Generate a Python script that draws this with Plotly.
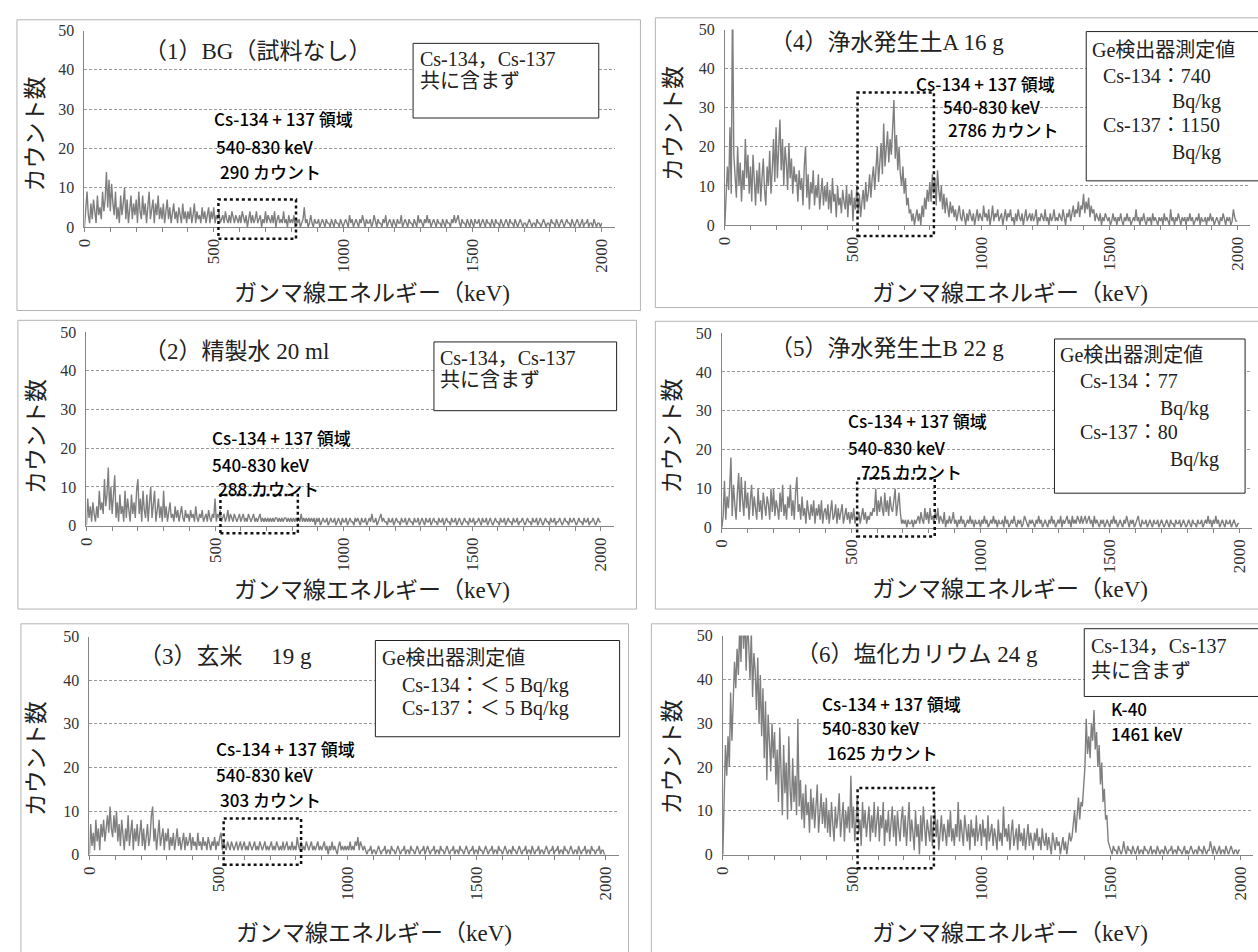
import plotly.graph_objects as go

W, H = 1258, 952
STEP_KEV = 5  # spacing of the value lists (keV); each list covers 0..2000 keV

# ---- spectra (counts, one value per 5 keV) ----
bg_counts = [
    0, 5, 9, 3, 1, 6, 2, 7, 4, 1, 8, 3, 5, 2, 9, 4, 7, 14, 5, 12,
    4, 11, 6, 3, 9, 2, 5, 1, 8, 3, 6, 10, 2, 7, 1, 5, 8, 2, 6, 3,
    7, 1, 9, 4, 2, 8, 3, 6, 1, 5, 9, 2, 4, 7, 1, 6, 3, 8, 2, 5,
    2, 6, 1, 4, 7, 2, 5, 1, 3, 6, 2, 4, 1, 5, 3, 1, 6, 2, 4, 1,
    4, 2, 5, 1, 3, 6, 1, 4, 2, 3, 1, 5, 2, 4, 1, 3, 5, 1, 4, 2,
    5, 1, 3, 2, 4, 1, 2, 3, 1, 4, 2, 1, 3, 1, 4, 2, 1, 3, 2, 1,
    3, 1, 4, 2, 1, 3, 0, 2, 4, 1, 3, 1, 2, 4, 1, 2, 3, 0, 2, 1,
    4, 1, 3, 2, 1, 3, 1, 4, 0, 2, 3, 1, 2, 1, 4, 1, 2, 0, 3, 1,
    2, 1, 3, 0, 2, 1, 2, 0, 1, 2, 5, 1, 2, 0, 1, 3, 1, 0, 2, 1,
    1, 2, 0, 1, 2, 1, 0, 2, 1, 1, 0, 2, 1, 0, 2, 1, 1, 0, 2, 1,
    0, 1, 2, 1, 0, 3, 1, 2, 0, 1, 2, 1, 0, 2, 1, 3, 1, 0, 2, 1,
    1, 2, 0, 1, 3, 1, 0, 2, 1, 1, 0, 2, 1, 3, 0, 1, 2, 1, 0, 2,
    1, 0, 2, 1, 1, 3, 0, 1, 2, 1, 0, 2, 1, 1, 0, 2, 1, 0, 3, 1,
    2, 1, 0, 2, 1, 3, 1, 2, 0, 1, 2, 1, 0, 2, 1, 1, 0, 2, 1, 0,
    2, 1, 1, 0, 2, 1, 3, 1, 2, 3, 1, 0, 2, 1, 1, 0, 2, 1, 0, 2,
    1, 0, 2, 1, 1, 2, 0, 1, 2, 1, 0, 2, 1, 1, 0, 2, 1, 0, 2, 1,
    1, 0, 2, 1, 0, 1, 2, 1, 0, 2, 1, 1, 0, 2, 1, 0, 1, 2, 1, 0,
    1, 1, 0, 1, 2, 1, 0, 1, 1, 0, 2, 1, 1, 0, 1, 2, 1, 0, 1, 1,
    0, 2, 1, 1, 0, 2, 1, 0, 1, 2, 1, 0, 1, 2, 1, 1, 0, 2, 1, 0,
    1, 2, 1, 0, 1, 2, 0, 1, 1, 2, 0, 1, 1, 0, 2, 1, 0, 1, 1, 0,
    1,
]
water_counts = [
    0, 7, 2, 5, 1, 6, 3, 1, 5, 2, 9, 4, 6, 3, 12, 5, 8, 15, 4, 10,
    3, 7, 13, 2, 6, 1, 8, 3, 5, 1, 9, 2, 7, 4, 1, 8, 3, 6, 2, 9,
    12, 3, 7, 1, 9, 4, 2, 8, 1, 6, 10, 2, 5, 9, 1, 4, 7, 2, 5, 1,
    9, 2, 5, 1, 4, 6, 2, 3, 1, 5, 2, 4, 1, 3, 5, 2, 1, 4, 2, 3,
    1, 4, 2, 3, 1, 5, 2, 1, 3, 2, 4, 1, 2, 3, 1, 4, 2, 1, 3, 2,
    7, 1, 3, 2, 4, 1, 2, 3, 1, 2, 4, 1, 3, 2, 1, 3, 2, 1, 2, 3,
    1, 2, 3, 1, 2, 1, 3, 2, 1, 2, 3, 1, 2, 1, 2, 3, 1, 2, 1, 2,
    1, 2, 1, 2, 1, 2, 1, 2, 2, 1, 2, 1, 2, 1, 2, 2, 1, 2, 1, 2,
    1, 2, 1, 2, 1, 2, 1, 3, 1, 2, 1, 2, 1, 2, 1, 2, 1, 2, 0, 2,
    1, 2, 0, 1, 2, 1, 1, 2, 0, 1, 2, 1, 1, 2, 0, 1, 2, 1, 0, 2,
    1, 1, 2, 0, 1, 2, 1, 1, 0, 2, 1, 2, 1, 0, 2, 1, 1, 2, 0, 1,
    2, 1, 3, 1, 1, 2, 0, 1, 2, 3, 1, 2, 1, 1, 0, 2, 1, 1, 2, 0,
    1, 2, 1, 1, 0, 2, 1, 1, 2, 0, 1, 2, 1, 1, 0, 2, 1, 1, 2, 0,
    1, 2, 1, 0, 2, 1, 1, 2, 0, 1, 2, 1, 1, 0, 2, 1, 1, 2, 0, 1,
    2, 1, 1, 0, 2, 1, 1, 2, 0, 1, 2, 1, 0, 1, 2, 1, 1, 0, 2, 1,
    1, 2, 0, 1, 1, 2, 1, 0, 2, 1, 1, 2, 0, 1, 2, 1, 0, 1, 2, 1,
    1, 0, 2, 1, 1, 2, 0, 1, 2, 1, 1, 0, 2, 1, 1, 2, 0, 1, 1, 2,
    1, 0, 1, 2, 1, 1, 0, 2, 1, 1, 2, 0, 1, 2, 1, 0, 1, 2, 1, 1,
    0, 2, 1, 1, 2, 0, 1, 1, 2, 1, 0, 1, 2, 1, 1, 0, 2, 1, 1, 2,
    1, 0, 1, 2, 1, 1, 0, 2, 1, 1, 2, 0, 1, 1, 2, 1, 0, 1, 2, 1,
    1,
]
rice_counts = [
    0, 7, 2, 5, 1, 8, 3, 6, 1, 7, 4, 8, 3, 6, 9, 5, 11, 6, 4, 9,
    5, 10, 3, 7, 2, 8, 4, 1, 6, 3, 9, 2, 5, 8, 1, 6, 3, 7, 2, 5,
    8, 2, 6, 1, 5, 7, 2, 4, 9, 11, 3, 6, 1, 5, 8, 2, 4, 6, 1, 5,
    3, 6, 1, 4, 2, 5, 1, 3, 6, 2, 4, 1, 3, 5, 1, 4, 2, 3, 5, 1,
    4, 2, 3, 1, 5, 2, 3, 1, 4, 2, 3, 1, 4, 2, 1, 3, 2, 4, 1, 3,
    2, 4, 5, 1, 3, 2, 1, 3, 2, 1, 3, 2, 1, 2, 3, 1, 2, 3, 1, 2,
    3, 1, 2, 1, 3, 2, 1, 2, 3, 1, 2, 1, 3, 2, 1, 2, 3, 1, 2, 1,
    2, 3, 1, 2, 1, 3, 2, 1, 2, 1, 3, 1, 2, 3, 1, 2, 1, 3, 1, 2,
    1, 4, 2, 1, 3, 1, 2, 1, 3, 2, 1, 2, 3, 1, 2, 1, 2, 3, 1, 2,
    1, 2, 3, 1, 2, 0, 2, 1, 3, 1, 2, 1, 0, 2, 3, 1, 2, 1, 2, 1,
    2, 1, 3, 1, 2, 1, 3, 2, 4, 1, 3, 2, 1, 2, 1, 0, 1, 1, 2, 0,
    1, 1, 0, 1, 2, 1, 0, 1, 1, 2, 0, 1, 1, 0, 2, 1, 1, 0, 1, 2,
    1, 0, 1, 1, 2, 0, 1, 1, 0, 2, 1, 1, 0, 1, 2, 1, 0, 1, 1, 2,
    0, 1, 2, 1, 0, 1, 1, 2, 0, 1, 1, 0, 2, 1, 1, 0, 1, 2, 1, 0,
    1, 1, 2, 0, 1, 1, 0, 2, 1, 1, 0, 1, 2, 1, 0, 1, 1, 2, 0, 1,
    1, 0, 2, 1, 1, 0, 1, 2, 1, 0, 1, 1, 2, 0, 1, 1, 0, 2, 1, 1,
    0, 1, 2, 1, 0, 1, 1, 0, 2, 1, 1, 0, 1, 2, 1, 0, 1, 1, 2, 0,
    1, 1, 0, 2, 1, 0, 1, 1, 2, 0, 1, 1, 0, 1, 2, 1, 0, 1, 1, 2,
    0, 1, 1, 2, 0, 1, 1, 0, 2, 1, 1, 0, 1, 2, 1, 0, 1, 1, 0, 2,
    1, 0, 1, 1, 2, 0, 1, 1, 0, 2, 1, 1, 0, 1, 1, 2, 0, 1, 1, 0,
    0,
]
soilA_counts = [
    0, 6, 15, 9, 25, 8, 60, 18, 12, 7, 20, 10, 16, 6, 14, 9, 22, 12, 18, 8,
    15, 6, 18, 10, 5, 14, 8, 16, 6, 12, 17, 9, 5, 15, 10, 19, 8, 14, 22, 11,
    25, 12, 18, 27, 14, 22, 10, 20, 16, 9, 21, 12, 17, 8, 15, 11, 13, 6, 14, 9,
    12, 5, 15, 20, 7, 13, 4, 11, 8, 14, 5, 10, 7, 13, 4, 9, 12, 5, 10, 6,
    11, 4, 9, 3, 12, 6, 8, 2, 10, 5, 7, 3, 9, 6, 4, 10, 2, 8, 5, 9,
    1, 7, 4, 10, 3, 8, 2, 6, 9, 4, 11, 6, 8, 13, 7, 12, 15, 9, 14, 20,
    11, 17, 21, 13, 26, 15, 19, 24, 16, 22, 18, 25, 32, 17, 23, 14, 20, 13, 10, 15,
    8, 12, 5, 7, 3, 4, 1, 3, 0, 2, 4, 1, 3, 0, 5, 2, 7, 4, 9, 6,
    11, 6, 13, 8, 12, 5, 14, 9, 6, 10, 4, 8, 3, 7, 5, 2, 6, 3, 5, 2,
    4, 1, 3, 5, 2, 1, 4, 2, 0, 3, 1, 4, 2, 1, 3, 0, 2, 4, 1, 3,
    2, 1, 5, 2, 3, 1, 4, 0, 2, 5, 1, 3, 2, 4, 1, 2, 3, 0, 2, 4,
    1, 3, 2, 4, 1, 2, 0, 3, 1, 4, 2, 1, 3, 0, 2, 4, 1, 2, 3, 1,
    3, 1, 2, 4, 0, 2, 1, 3, 2, 1, 4, 1, 2, 0, 3, 1, 2, 4, 1, 2,
    1, 3, 2, 1, 4, 2, 0, 3, 2, 4, 1, 3, 5, 2, 4, 3, 6, 2, 5, 4,
    8, 3, 6, 4, 7, 2, 5, 3, 4, 1, 3, 2, 1, 3, 0, 2, 1, 3, 2, 1,
    2, 0, 1, 3, 1, 2, 0, 2, 1, 3, 1, 0, 2, 1, 3, 1, 2, 0, 1, 2,
    1, 4, 1, 2, 0, 2, 1, 3, 1, 0, 2, 1, 2, 0, 3, 1, 2, 1, 0, 2,
    1, 2, 0, 3, 1, 2, 1, 0, 4, 1, 2, 0, 2, 1, 3, 1, 0, 2, 1, 2,
    0, 2, 1, 3, 1, 2, 0, 1, 2, 1, 3, 0, 2, 1, 1, 2, 0, 2, 1, 3,
    1, 2, 0, 1, 2, 1, 0, 2, 1, 3, 1, 0, 2, 1, 2, 0, 1, 4, 2, 1,
    1,
]
soilB_counts = [
    0, 3, 12, 2, 8, 5, 10, 18, 3, 11, 6, 2, 9, 14, 4, 13, 7, 3, 12, 5,
    9, 2, 7, 11, 3, 8, 5, 2, 10, 4, 7, 2, 9, 5, 3, 8, 6, 2, 10, 4,
    10, 3, 7, 5, 2, 9, 4, 11, 3, 6, 2, 8, 5, 11, 3, 7, 2, 9, 13, 4,
    6, 2, 8, 3, 5, 1, 7, 4, 2, 6, 3, 7, 1, 5, 3, 6, 2, 7, 1, 4,
    5, 2, 6, 1, 4, 7, 2, 3, 6, 1, 5, 2, 4, 6, 1, 3, 5, 2, 4, 1,
    4, 2, 5, 1, 3, 2, 4, 1, 3, 5, 2, 4, 1, 3, 2, 4, 3, 5, 4, 10,
    3, 7, 4, 8, 5, 3, 9, 4, 7, 3, 8, 5, 4, 7, 10, 3, 6, 9, 4, 1,
    2, 1, 2, 0, 2, 1, 1, 2, 0, 2, 1, 2, 3, 1, 4, 2, 1, 5, 2, 4,
    1, 5, 2, 3, 1, 4, 2, 5, 1, 3, 2, 1, 4, 0, 2, 1, 3, 1, 2, 4,
    1, 2, 0, 2, 1, 3, 1, 2, 0, 1, 2, 1, 3, 1, 2, 0, 2, 1, 1, 2,
    0, 2, 1, 3, 1, 2, 0, 1, 2, 1, 3, 1, 2, 0, 2, 1, 1, 2, 0, 3,
    1, 2, 0, 1, 2, 1, 3, 1, 0, 2, 1, 2, 0, 1, 3, 2, 1, 0, 2, 1,
    2, 1, 0, 2, 1, 3, 1, 2, 0, 1, 2, 1, 0, 2, 1, 3, 1, 2, 0, 1,
    2, 1, 3, 0, 2, 1, 2, 3, 1, 2, 0, 3, 1, 2, 1, 3, 2, 1, 3, 1,
    2, 3, 1, 2, 3, 1, 2, 0, 3, 1, 2, 1, 0, 2, 1, 2, 0, 1, 2, 1,
    0, 2, 1, 3, 1, 2, 0, 1, 2, 1, 0, 2, 1, 3, 1, 0, 2, 1, 2, 0,
    1, 2, 3, 1, 0, 2, 1, 1, 2, 0, 1, 2, 1, 0, 2, 1, 1, 2, 0, 1,
    2, 1, 0, 1, 2, 1, 0, 2, 1, 1, 0, 2, 1, 1, 2, 0, 1, 2, 1, 0,
    1, 2, 1, 0, 2, 1, 1, 0, 2, 1, 1, 2, 0, 1, 2, 1, 3, 1, 2, 0,
    2, 1, 3, 1, 2, 0, 1, 2, 1, 0, 2, 1, 1, 2, 0, 1, 2, 1, 0, 1,
    1,
]
kcl_counts = [
    0, 12, 25, 18, 27, 20, 37, 26, 33, 44, 38, 47, 41, 52, 44, 58, 47, 55, 42, 53,
    48, 40, 51, 36, 46, 42, 33, 45, 30, 41, 27, 38, 22, 35, 17, 32, 26, 19, 30, 22,
    28, 16, 24, 12, 29, 19, 9, 25, 14, 21, 8, 27, 15, 10, 22, 12, 18, 9, 31, 11,
    17, 8, 14, 6, 16, 9, 12, 5, 15, 8, 13, 6, 11, 16, 5, 10, 14, 7, 12, 6,
    13, 5, 10, 4, 12, 7, 3, 11, 6, 9, 14, 4, 8, 12, 3, 10, 6, 11, 5, 18,
    6, 11, 3, 9, 13, 5, 8, 2, 12, 6, 10, 4, 7, 11, 3, 9, 5, 12, 4, 8,
    11, 3, 9, 6, 12, 2, 8, 5, 10, 3, 7, 11, 4, 9, 2, 10, 6, 3, 8, 11,
    4, 9, 2, 7, 12, 3, 8, 5, 1, 10, 4, 7, 0, 9, 3, 11, 5, 2, 8, 6,
    3, 9, 2, 7, 10, 4, 8, 1, 6, 9, 3, 7, 5, 2, 8, 4, 10, 3, 6, 2,
    7, 4, 12, 3, 8, 5, 2, 9, 6, 3, 7, 1, 8, 4, 6, 2, 9, 3, 5, 7,
    2, 8, 4, 6, 1, 9, 3, 5, 7, 2, 6, 4, 1, 8, 3, 5, 2, 11, 4, 6,
    3, 7, 1, 5, 8, 2, 4, 6, 1, 7, 3, 5, 2, 6, 1, 4, 7, 2, 5, 3,
    1, 5, 3, 6, 2, 4, 1, 6, 3, 2, 5, 1, 4, 2, 0, 5, 3, 1, 4, 2,
    3, 0, 2, 4, 1, 3, 0, 2, 5, 3, 4, 7, 10, 5, 9, 13, 8, 12, 11, 17,
    20, 31, 23, 27, 22, 30, 26, 33, 24, 28, 20, 25, 16, 21, 12, 15, 8, 9, 3, 2,
    1, 0, 2, 1, 1, 0, 2, 1, 0, 1, 3, 1, 0, 2, 1, 1, 0, 2, 1, 0,
    1, 2, 0, 1, 1, 0, 2, 1, 1, 0, 1, 2, 0, 1, 1, 0, 2, 1, 0, 1,
    1, 0, 2, 1, 0, 1, 1, 2, 0, 1, 1, 0, 2, 1, 1, 0, 1, 2, 0, 1,
    0, 1, 2, 1, 0, 1, 1, 0, 2, 1, 1, 0, 2, 1, 0, 1, 1, 3, 1, 0,
    2, 1, 0, 1, 2, 0, 1, 1, 0, 2, 1, 0, 1, 2, 1, 0, 1, 1, 0, 1,
    1,
]

x_tick_vals = [0, 500, 1000, 1500, 2000]
y_tick_step = 10
x_max_kev = 2050
y_max_count = 50

panel_titles = ["（1）BG（試料なし）", "（2）精製水 20 ml", "（3）玄米　 19 g",
                "（4）浄水発生土A 16 g", "（5）浄水発生土B 22 g", "（6）塩化カリウム 24 g"]
region_counts = ["290 カウント", "288 カウント", "303 カウント",
                 "2786 カウント", "725 カウント", "1625 カウント"]
series = [bg_counts, water_counts, rice_counts, soilA_counts, soilB_counts, kcl_counts]

SERIF = "Liberation Serif, Noto Sans CJK JP, serif"
SANS = "Noto Sans CJK JP, sans-serif"
LINE = "#7f7f7f"
AXIS = "#868686"


def fx(p):
    return p / W


def fy(p):
    return 1 - p / H


# pixel layout of each panel
panels = [
    dict(plot=(76, 610, 23, 223), border=(8, 12, 636, 308), title=(135, 44),
         ytitle=(27, 128), xtitle=(366, 291),
         region_box=(518, 818, 7, -3),
         cs=[(205, 112), (207, 141), (212, 166)],
         box=dict(rect=(407, 36, 594, 112),
                  lines=[(413, 52, "Cs-134，Cs-137"), (413, 74, "共に含まず")])),
    dict(plot=(78, 609, 330, 527), border=(9, 318, 632, 612), title=(135, 350),
         ytitle=(27, 436), xtitle=(366, 593),
         region_box=(521, 822, 7.9, -2),
         cs=[(203, 437), (203, 465), (209, 489)],
         box=dict(rect=(428, 340, 612, 410),
                  lines=[(433, 356, "Cs-134，Cs-137"), (433, 379, "共に含まず")])),
    dict(plot=(81, 614, 640, 862), border=(12, 627, 624, 962), title=(130, 660),
         ytitle=(28, 764), xtitle=(368, 942),
         region_box=(520, 820, 8.3, -2.3),
         cs=[(207, 754), (207, 780), (212, 806)],
         box=dict(rect=(369, 644, 615, 742),
                  lines=[(375, 662, "Ge検出器測定値"),
                         (395, 690, "Cs-134：＜ 5 Bq/kg"),
                         (395, 713, "Cs-137：＜ 5 Bq/kg")])),
    dict(plot=(721, 1250, 22, 221), border=(651, 10, 1264, 305), title=(765, 35),
         ytitle=(670, 118), xtitle=(1008, 291),
         region_box=(518, 816, 33.9, -2.8),
         cs=[(913, 77), (940, 100), (945, 124)],
         box=dict(rect=(1085, 24, 1262, 176),
                  lines=[(1090, 43, "Ge検出器測定値"), (1101, 69, "Cs-134：740"),
                         (1170, 95, "Bq/kg"), (1101, 119, "Cs-137：1150"),
                         (1170, 147, "Bq/kg")])),
    dict(plot=(718, 1252, 331, 529), border=(651, 319, 1264, 612), title=(765, 347),
         ytitle=(668, 436), xtitle=(1008, 592),
         region_box=(523, 823, 12.6, -2.3),
         cs=[(844, 420), (844, 447), (857, 472)],
         box=dict(rect=(1053, 337, 1245, 494),
                  lines=[(1058, 353, "Ge検出器測定値"), (1078, 380, "Cs-134：77"),
                         (1158, 408, "Bq/kg"), (1078, 432, "Cs-137：80"),
                         (1168, 460, "Bq/kg")])),
    dict(plot=(719, 1253, 639, 862), border=(647, 627, 1264, 962), title=(792, 658),
         ytitle=(668, 763), xtitle=(1008, 942),
         region_box=(521, 816, 15.2, -3.1),
         cs=[(818, 708), (818, 733), (823, 758)],
         box=dict(rect=(1083, 632, 1262, 701),
                  lines=[(1089, 650, "Cs-134，Cs-137"), (1089, 675, "共に含まず")])),
]

fig = go.Figure()
layout = dict(width=W, height=H, margin=dict(l=0, r=0, t=0, b=0),
              paper_bgcolor="white", plot_bgcolor="rgba(0,0,0,0)", showlegend=False)
shapes = []
anns = []


def txt(x, y, s, size, family, anchor="left", angle=0, color="#111", weight="normal"):
    anns.append(dict(x=fx(x), y=fy(y), xref="paper", yref="paper", text=s,
                     showarrow=False, xanchor=anchor, yanchor="middle", textangle=angle,
                     borderpad=0,
                     font=dict(family=family, size=size, color=color, weight=weight)))


for i, (p, counts) in enumerate(zip(panels, series)):
    sx = "" if i == 0 else str(i + 1)
    x0, x1, yt, yb = p["plot"]
    fig.add_trace(go.Scatter(
        x=[STEP_KEV * k for k in range(len(counts))], y=counts, mode="lines",
        line=dict(color=LINE, width=1.4), xaxis="x" + sx, yaxis="y" + sx,
        hoverinfo="skip"))
    layout["xaxis" + sx] = dict(
        domain=[fx(x0), fx(x1)], anchor="y" + sx, range=[0, x_max_kev],
        tickmode="array", tickvals=x_tick_vals, tickangle=-90,
        tickfont=dict(family=SERIF, size=17, color="#333"),
        showline=True, linecolor=AXIS, linewidth=1,
        ticks="outside", ticklen=4, tickcolor=AXIS,
        minor=dict(tickmode="linear", tick0=0, dtick=100, ticks="outside",
                   ticklen=4, tickcolor=AXIS, showgrid=False),
        showgrid=False, zeroline=False, fixedrange=True)
    layout["yaxis" + sx] = dict(
        domain=[fy(yb), fy(yt)], anchor="x" + sx, range=[0, y_max_count],
        tickmode="linear", tick0=0, dtick=y_tick_step,
        tickfont=dict(family=SERIF, size=16, color="#333"),
        showline=True, linecolor=AXIS, linewidth=1, ticks="",
        ticklabelstandoff=6,
        showgrid=True, gridcolor="#9a9a9a", griddash="3px,2px", gridwidth=1,
        zeroline=False, fixedrange=True)

    # panel border
    bx0, by0, bx1, by1 = p["border"]
    shapes.append(dict(type="rect", xref="paper", yref="paper", layer="below",
                       x0=fx(bx0), x1=fx(bx1), y0=fy(by1), y1=fy(by0),
                       line=dict(color="#b4b4b4", width=1), fillcolor="rgba(0,0,0,0)"))
    # dotted Cs region box (keV on x, counts on y)
    rx0, rx1, rtop, rbot = p["region_box"]
    shapes.append(dict(type="rect", xref="x" + sx, yref="y" + sx + " domain",
                       x0=rx0, x1=rx1, y0=rbot / y_max_count, y1=rtop / y_max_count,
                       line=dict(color="#111", width=2.5, dash="dot"),
                       fillcolor="rgba(0,0,0,0)", layer="above"))
    # info text box
    r = p["box"]["rect"]
    shapes.append(dict(type="rect", xref="paper", yref="paper", layer="above",
                       x0=fx(r[0]), x1=fx(r[2]), y0=fy(r[3]), y1=fy(r[1]),
                       line=dict(color="#222", width=1), fillcolor="white"))
    for (lx, ly, s) in p["box"]["lines"]:
        txt(lx, ly, s, 20, SERIF, color="#222")

    # titles
    txt(p["title"][0], p["title"][1], panel_titles[i], 23, SERIF, color="#222")
    txt(p["ytitle"][0], p["ytitle"][1], "カウント数", 23, SERIF, anchor="center",
        angle=-90, color="#222")
    txt(p["xtitle"][0], p["xtitle"][1], "ガンマ線エネルギー（keV)", 23, SERIF,
        anchor="center", color="#222")

    # Cs region annotation
    cs_lines = ["Cs-134 + 137 領域", "540-830 keV", region_counts[i]]
    for (lx, ly), s in zip(p["cs"], cs_lines):
        txt(lx, ly, s, 17, SANS, color="#000", weight=500)

# K-40 label in panel 6
txt(1109, 713, "K-40", 17, SANS, color="#000", weight=500)
txt(1109, 739, "1461 keV", 17, SANS, color="#000", weight=500)

layout["shapes"] = shapes
layout["annotations"] = anns
fig.update_layout(**layout)
fig.write_html("out.html", config={"displayModeBar": False},
               post_script="document.body.style.margin='0px';"
                           "document.body.style.overflow='hidden';")
